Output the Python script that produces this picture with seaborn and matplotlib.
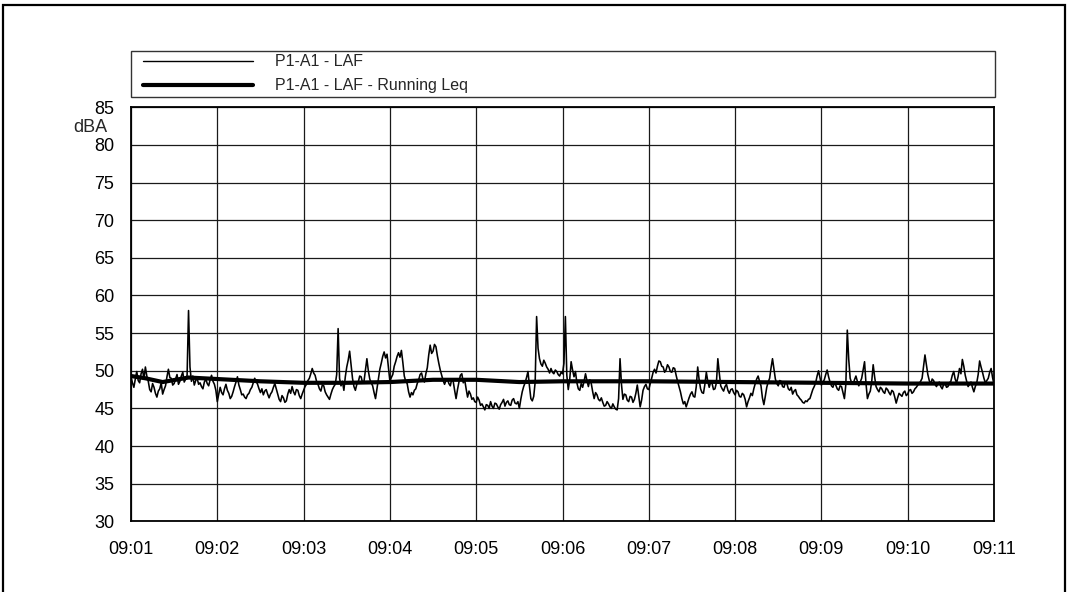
import numpy as np
import pandas as pd
import matplotlib
matplotlib.use("Agg")
import matplotlib.pyplot as plt
from matplotlib.patches import Rectangle
from matplotlib.lines import Line2D
from matplotlib.legend_handler import HandlerLine2D
import seaborn as sns

# ---------------- data ----------------
laf_start = "2024-01-01 09:01:00"
laf_step_seconds = 1
laf_values = [
    # 09:01:00 - 09:03:29
    49.2, 48.4, 47.8, 48.9, 49.9, 48.7, 48.4, 49.6, 50.2, 48.9, 50.5, 49.3, 48.6, 47.5, 47.2, 48.3, 47.8, 47.0, 46.5, 47.3,
    47.6, 48.4, 46.9, 47.5, 48.0, 49.2, 50.2, 49.1, 49.0, 48.1, 48.3, 48.9, 49.5, 48.2, 48.6, 49.3, 49.8, 48.5, 48.9, 49.4,
    58.0, 50.5, 48.6, 49.3, 48.1, 48.7, 49.0, 48.2, 48.4, 47.9, 47.6, 48.5, 48.9, 48.3, 48.0, 48.8, 49.4, 48.6, 48.2, 47.4,
    45.9, 46.9, 47.8, 47.1, 46.8, 47.6, 48.2, 47.4, 47.0, 46.3, 46.6, 47.2, 47.9, 48.5, 49.2, 48.1, 47.5, 46.8, 46.9, 46.5,
    46.3, 46.8, 47.0, 47.5, 47.8, 48.4, 49.0, 48.6, 48.2, 47.6, 47.1, 47.6, 46.8, 47.3, 47.5, 46.9, 46.4, 46.9, 47.2, 47.8,
    48.3, 47.6, 46.9, 46.2, 45.9, 46.7, 46.4, 45.8, 46.0, 46.9, 47.5, 47.0, 47.9, 47.2, 46.8, 47.5, 47.4, 46.7, 46.3, 46.9,
    47.4, 47.9, 48.2, 48.7, 49.0, 49.6, 50.3, 49.7, 49.4, 48.6, 48.2, 47.6, 47.3, 48.1, 48.0, 47.2, 46.8, 46.5, 46.2, 46.9,
    47.5, 47.9, 48.2, 49.5, 55.6, 49.0, 48.0, 48.6, 47.4, 49.2,
    # 09:03:30 - 09:05:59
    50.5, 51.4, 52.6, 50.8, 49.0, 47.9, 47.4, 48.2, 48.5, 49.3, 49.2, 48.4, 48.6, 50.1, 51.6, 50.0, 48.9, 48.4, 48.0, 47.1,
    46.3, 47.6, 49.0, 50.2, 51.0, 51.9, 52.5, 51.7, 52.2, 50.4, 48.6, 49.1, 49.5, 50.6, 51.2, 51.9, 52.4, 51.8, 52.7, 51.1,
    49.3, 48.6, 48.3, 47.2, 46.5, 47.1, 46.8, 47.4, 47.6, 48.3, 48.8, 49.5, 49.7, 48.9, 48.5, 49.6, 50.4, 52.1, 53.4, 52.3,
    52.6, 53.5, 53.2, 52.0, 51.0, 50.1, 49.4, 48.7, 48.2, 48.7, 48.9, 48.3, 48.0, 48.9, 48.6, 47.4, 46.3, 47.5, 48.5, 49.4,
    49.6, 48.4, 48.8, 47.6, 46.5, 47.3, 46.9, 46.2, 46.4, 45.9, 45.8, 46.5, 46.1, 45.4, 45.6, 45.2, 44.8, 45.5, 45.4, 45.0,
    45.9, 45.3, 45.0, 45.7, 45.6, 45.2, 44.9, 45.5, 45.8, 46.2, 45.3, 45.8, 46.0, 45.5, 45.4, 46.1, 46.3, 45.7, 45.6, 45.9,
    45.0, 46.2, 47.2, 47.9, 48.4, 49.1, 49.9, 48.0, 46.3, 46.0, 46.6, 48.5, 57.2, 53.0, 51.6, 50.9, 50.6, 51.4, 51.0, 50.5,
    50.2, 49.7, 50.3, 49.8, 49.6, 50.1, 49.9, 49.5, 49.3, 49.8,
    # 09:06:00 - 09:08:29
    49.6, 51.0, 57.2, 49.4, 47.5, 48.8, 51.2, 50.1, 49.2, 49.9, 48.4, 47.6, 47.4, 48.3, 47.8, 48.6, 49.6, 48.7, 47.9, 48.8,
    48.3, 47.2, 46.3, 47.1, 46.8, 46.2, 46.0, 46.4, 45.8, 45.3, 45.4, 45.9, 45.6, 45.2, 45.0, 45.6, 45.2, 44.9, 44.8, 46.3,
    51.6, 48.2, 46.2, 46.9, 46.8, 46.1, 45.9, 46.6, 46.5, 45.8, 46.2, 47.0, 48.1, 46.6, 45.2, 46.1, 47.4, 47.9, 48.2, 47.6,
    47.5, 48.3, 49.0, 49.8, 50.2, 49.7, 50.6, 51.3, 51.2, 50.6, 50.5, 49.8, 50.1, 50.8, 50.5, 49.9, 49.8, 50.4, 50.3, 49.4,
    48.6, 47.9, 47.2, 46.3, 45.6, 45.9, 45.2, 45.8, 46.4, 46.9, 47.2, 46.6, 46.5, 47.9, 50.5, 48.8, 47.6, 47.1, 47.0, 48.2,
    49.8, 48.6, 47.8, 48.5, 48.3, 47.5, 47.6, 48.4, 51.6, 49.7, 48.0, 47.6, 47.3, 47.9, 48.2, 47.4, 47.0, 47.5, 47.6, 47.1,
    46.8, 47.4, 47.2, 46.6, 46.5, 47.0, 46.8, 46.2, 45.2, 45.9, 46.4, 47.0, 46.7, 47.6, 48.3, 48.9, 49.3, 48.6, 48.0, 46.4,
    45.5, 46.6, 47.8, 48.5, 49.0, 50.4, 51.6, 50.2, 48.9, 48.3,
    # 09:08:30 - 09:11:00
    48.0, 48.7, 48.6, 47.9, 47.8, 48.5, 48.3, 47.6, 47.4, 47.8, 46.9, 47.3, 47.5, 46.8, 46.6, 46.3, 46.1, 45.8, 45.7, 46.0,
    45.9, 46.2, 46.3, 46.9, 47.5, 47.9, 48.4, 49.3, 50.0, 49.1, 48.1, 48.5, 48.8, 49.5, 50.1, 49.2, 48.5, 48.0, 47.8, 48.4,
    48.1, 47.6, 47.4, 48.0, 47.9, 47.1, 46.3, 48.2, 55.4, 51.5, 49.0, 48.4, 48.2, 48.8, 49.3, 48.6, 48.0, 48.5, 49.0, 50.1,
    51.2, 48.3, 46.3, 46.9, 47.3, 48.6, 50.8, 49.2, 47.9, 47.5, 47.2, 47.8, 47.6, 47.2, 47.0, 47.7, 47.5, 47.1, 46.8, 47.4,
    47.2, 46.5, 45.7, 46.4, 47.0, 46.8, 46.6, 47.1, 47.3, 46.7, 46.9, 47.4, 47.5, 47.0, 47.2, 47.6, 47.8, 48.1, 48.3, 48.6,
    49.0, 50.5, 52.1, 50.8, 49.5, 48.7, 48.2, 48.9, 48.7, 48.2, 47.9, 48.3, 48.5, 47.9, 47.6, 48.2, 48.3, 47.8, 47.9, 48.4,
    48.6, 49.4, 49.9, 48.9, 48.4, 49.2, 50.3, 49.6, 51.5, 50.6, 49.4, 48.6, 47.9, 48.2, 48.5, 47.8, 47.2, 47.9, 48.4, 49.5,
    51.3, 50.5, 49.8, 49.0, 48.4, 48.7, 49.0, 49.8, 50.3, 49.1, 48.2,
]

leq_times = ["09:01:00", "09:01:10", "09:01:22", "09:01:40", "09:02:00",
             "09:02:30", "09:03:00", "09:03:30", "09:04:00", "09:04:30",
             "09:05:00", "09:05:30", "09:06:00", "09:07:00", "09:08:00",
             "09:09:00", "09:10:00", "09:11:00"]
leq_values = [49.3, 49.0, 48.5, 49.1, 48.9, 48.6, 48.4, 48.4, 48.5, 48.8,
              48.8, 48.5, 48.6, 48.6, 48.5, 48.4, 48.3, 48.3]

y_ticks = [30, 35, 40, 45, 50, 55, 60, 65, 70, 75, 80, 85]
x_tick_labels = ["09:01", "09:02", "09:03", "09:04", "09:05", "09:06",
                 "09:07", "09:08", "09:09", "09:10", "09:11"]
series_labels = ["P1-A1 - LAF", "P1-A1 - LAF - Running Leq"]
y_unit = "dBA"

# ---------------- frames ----------------
laf_df = pd.DataFrame({
    "time": pd.date_range(laf_start, periods=len(laf_values),
                          freq=f"{laf_step_seconds}s"),
    "level": laf_values,
})
leq_df = pd.DataFrame({
    "time": pd.to_datetime(["2024-01-01 " + t for t in leq_times]),
    "level": leq_values,
})
x_ticks = pd.to_datetime(["2024-01-01 " + t for t in x_tick_labels])

# ---------------- style ----------------
sns.set_style("white")
plt.rcParams["font.family"] = ["Liberation Sans", "DejaVu Sans"]

W, H = 1068, 592
fig = plt.figure(figsize=(W / 100, H / 100), dpi=100)
ax = fig.add_axes([131 / W, 1 - 521.3 / H, 863 / W, 414 / H])

sns.lineplot(data=laf_df, x="time", y="level", ax=ax, color="black",
             linewidth=1.15, estimator=None, label=series_labels[0])
sns.lineplot(data=leq_df, x="time", y="level", ax=ax, color="black",
             linewidth=3.0, estimator=None, label=series_labels[1])

ax.set_xlim(x_ticks[0], x_ticks[-1])
ax.set_ylim(y_ticks[0], y_ticks[-1])
ax.set_yticks(y_ticks)
ax.set_xticks(x_ticks)
ax.set_xticklabels(x_tick_labels)
ax.set_xlabel("")
ax.set_ylabel("")
ax.grid(True, color="#1a1a1a", linewidth=0.9)
ax.set_axisbelow(True)
for sp in ax.spines.values():
    sp.set_color("black")
    sp.set_linewidth(1.3)
ax.tick_params(axis="both", direction="out", length=11, width=0.9,
               color="#555555", labelsize=13, labelcolor="black", pad=1)
ax.tick_params(axis="x", pad=3)

# legend in its own box above the plot
ax.get_legend().remove()
handles = [Line2D([], [], color="black", linewidth=1.0),
           Line2D([], [], color="black", linewidth=3.0)]
leg = fig.legend(handles, series_labels,
                 bbox_to_anchor=(131 / W, 1 - 97 / H, 864 / W, 46 / H),
                 loc="lower left", mode="expand", ncol=1, borderaxespad=0,
                 fancybox=False, frameon=True, edgecolor="black",
                 fontsize=11.5, handlelength=7.4, handletextpad=1.4,
                 labelspacing=0.55, borderpad=0.24,
                 handler_map={Line2D: HandlerLine2D(xpad=0.5)})
leg.get_frame().set_linewidth(1.0)

fig.text(107 / W, 1 - 127.5 / H, y_unit, ha="right", va="center",
         fontsize=13)

# outer border of the page
fig.patches.append(Rectangle((3 / W, -0.02), 1062 / W, 1.02 - 5 / H,
                             transform=fig.transFigure, fill=False,
                             edgecolor="black", linewidth=1.6))

fig.savefig("out.png", dpi=100, facecolor="white")
